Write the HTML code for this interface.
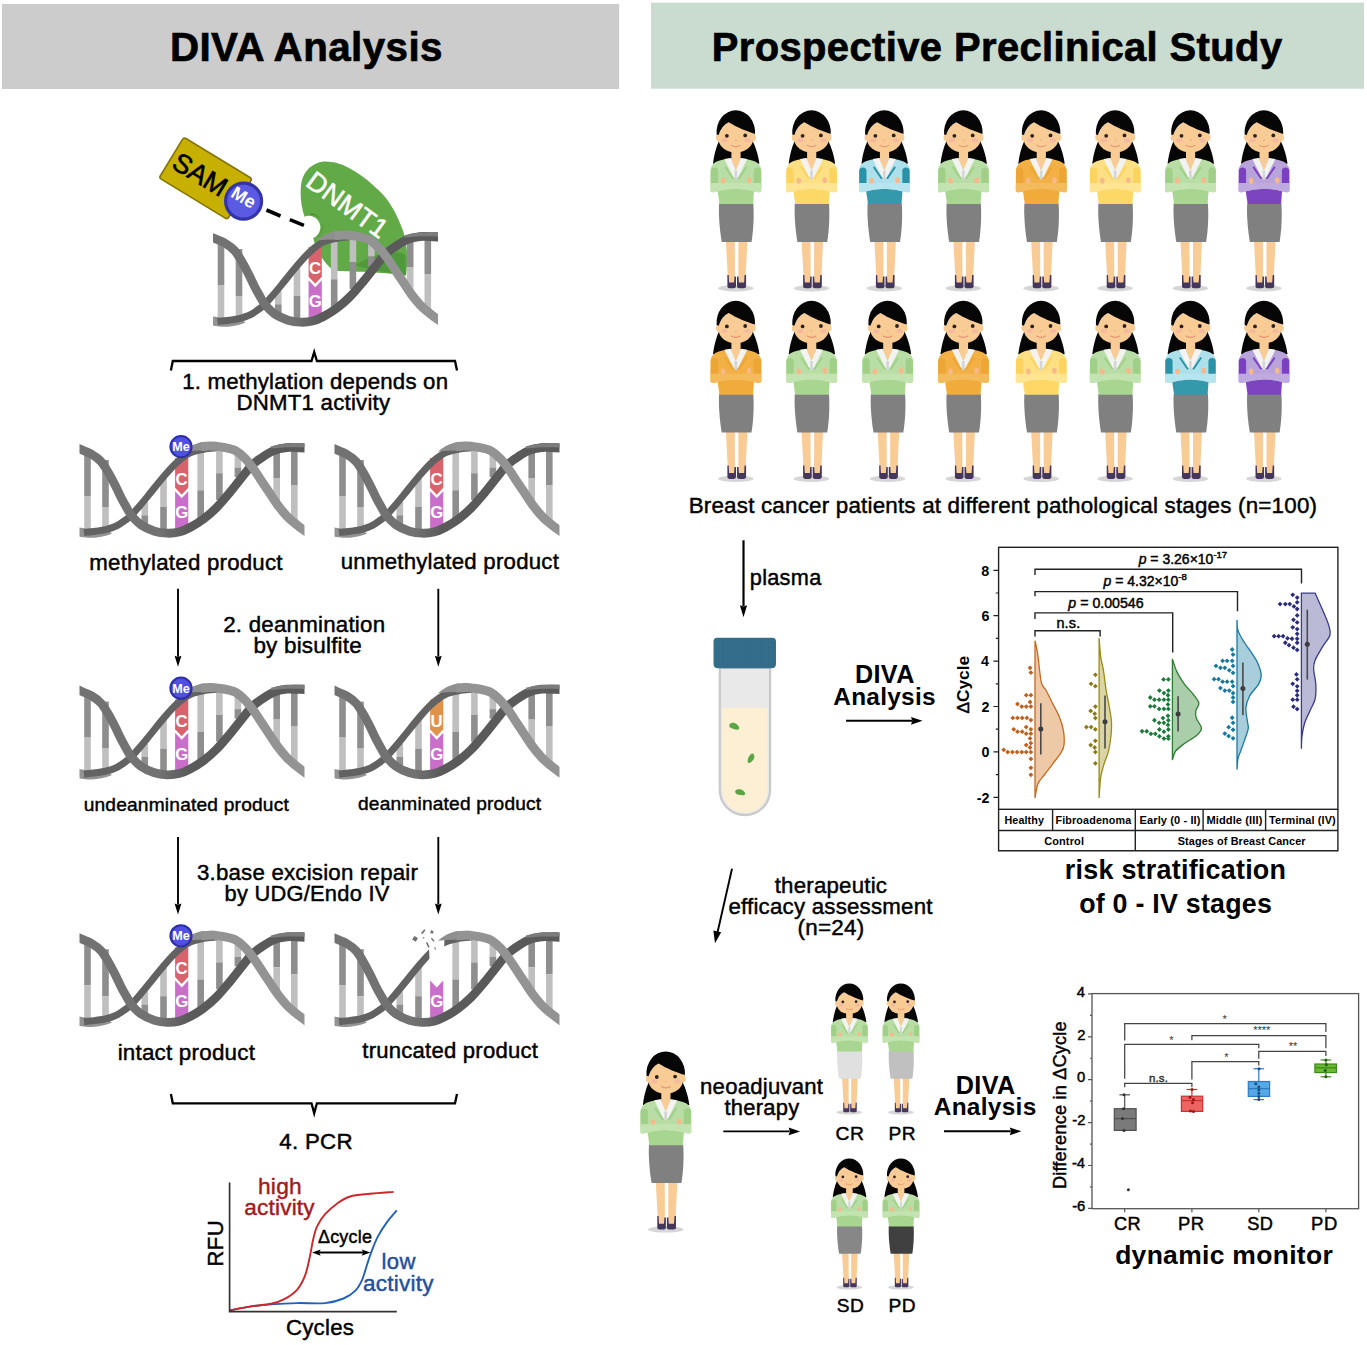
<!DOCTYPE html>
<html><head><meta charset="utf-8"><title>DIVA Analysis</title>
<style>html,body{margin:0;padding:0;background:#fff;overflow:hidden}svg{display:block}text{font-family:"Liberation Sans", Arial, sans-serif}</style>
</head><body>
<svg width="1367" height="1345" viewBox="0 0 1367 1345">
<defs>
<clipPath id="cutB"><path d="M-10,-10 L97.5,-10 L99.5,40 L114,40 L115,-10 L260,-10 L260,130 L-10,130 Z"/></clipPath>
<clipPath id="dclip"><rect x="4.5" y="0" width="225" height="120"/></clipPath>
<g id="dbars">
<rect x="9.2" y="22" width="6.6" height="44" fill="#8e8e8e"/>
<rect x="9.2" y="66" width="6.6" height="34" fill="#bfbfbf"/>
<rect x="27.2" y="30" width="6.6" height="47" fill="#8e8e8e"/>
<rect x="27.2" y="77" width="6.6" height="23" fill="#bfbfbf"/>
<rect x="66.5" y="72" width="6.6" height="13.3" fill="#bfbfbf"/>
<rect x="66.5" y="85.3" width="6.6" height="10.7" fill="#8e8e8e"/>
<rect x="85.2" y="48" width="6.6" height="29" fill="#bfbfbf"/>
<rect x="85.2" y="77" width="6.6" height="24" fill="#8e8e8e"/>
<rect x="122.4" y="20" width="6.6" height="40.3" fill="#bfbfbf"/>
<rect x="122.4" y="60.3" width="6.6" height="31.7" fill="#8e8e8e"/>
<rect x="141.1" y="18" width="6.6" height="25.2" fill="#bfbfbf"/>
<rect x="141.1" y="43.2" width="6.6" height="26.8" fill="#8e8e8e"/>
<rect x="159.6" y="22" width="6.6" height="15.5" fill="#bfbfbf"/>
<rect x="159.6" y="37.5" width="6.6" height="9.5" fill="#8e8e8e"/>
<rect x="198.4" y="19" width="6.6" height="29" fill="#8e8e8e"/>
<rect x="198.4" y="48" width="6.6" height="27" fill="#bfbfbf"/>
<rect x="216" y="17" width="6.6" height="38" fill="#8e8e8e"/>
<rect x="216" y="55" width="6.6" height="41" fill="#bfbfbf"/>
</g>
<path id="dC" d="M100.1,28 L113.3,28 L113.3,57.7 L106.7,64.7 L100.1,57.7 Z" fill="#d9636d"/>
<path id="dU" d="M100.1,28 L113.3,28 L113.3,57.7 L106.7,64.7 L100.1,57.7 Z" fill="#e0924a"/>
<path id="dG" d="M100.1,61.2 L106.7,68.2 L113.3,61.2 L113.3,101 L100.1,101 Z" fill="#c96fca"/>
<path id="sB1" d="M9,102.6 C10.92,102.37 16.88,101.7 20.5,101.2 C24.12,100.7 27.28,100.43 30.7,99.6 C34.12,98.77 37.58,97.87 41,96.2 C44.42,94.53 48.62,91.47 51.2,89.6 C53.78,87.73 54.2,87.35 56.5,85 C58.8,82.65 61.9,79.12 65,75.5 C68.1,71.88 71.18,68.08 75.1,63.3 C79.02,58.52 84.03,51.97 88.5,46.8 C92.97,41.63 97.45,36.28 101.9,32.3 C106.35,28.32 110.75,25.08 115.2,22.9 C119.65,20.72 124.25,20.05 128.6,19.2 C132.95,18.35 139.18,18.03 141.3,17.8" fill="none" stroke="#626262" stroke-width="7"/>
<linearGradient id="gA" gradientUnits="userSpaceOnUse" x1="0" y1="0" x2="234" y2="0"><stop offset="0.36" stop-color="#727272"/><stop offset="0.48" stop-color="#5a5a5a"/></linearGradient>
<path id="sA" d="M0,17.5 C0.73,17.72 1.57,17.63 4.4,18.8 C7.23,19.97 13.4,22.38 17,24.5 C20.6,26.62 23.33,28.58 26,31.5 C28.67,34.42 30.67,38.08 33,42 C35.33,45.92 37.78,50.67 40,55 C42.22,59.33 44.47,64.42 46.3,68 C48.13,71.58 49.3,73.58 51,76.5 C52.7,79.42 53.95,82.42 56.5,85.5 C59.05,88.58 62.47,92.38 66.3,95 C70.13,97.62 75.22,99.83 79.5,101.2 C83.78,102.57 87.92,103.07 92,103.2 C96.08,103.33 100.17,102.95 104,102 C107.83,101.05 110.97,99.62 115,97.5 C119.03,95.38 123.82,92.57 128.2,89.3 C132.58,86.03 136.92,82.3 141.3,77.9 C145.68,73.5 150.1,68.17 154.5,62.9 C158.9,57.63 164.03,50.83 167.7,46.3 C171.37,41.77 173.58,38.63 176.5,35.7 C179.42,32.77 181.55,31.18 185.2,28.7 C188.85,26.22 194,22.65 198.4,20.8 C202.8,18.95 207.22,18.1 211.6,17.6 C215.98,17.1 220.97,17.68 224.7,17.8 C228.43,17.92 232.45,18.22 234,18.3" fill="none" stroke="url(#gA)" stroke-width="8.8"/>
<path id="sB2" d="M126,16.6 C127.33,16.5 131.45,16.05 134,16 C136.55,15.95 137.15,15.65 141.3,16.3 C145.45,16.95 154.22,17.98 158.9,19.9 C163.58,21.82 166.18,24.72 169.4,27.8 C172.62,30.88 175.57,34.88 178.2,38.4 C180.83,41.92 182.57,44.95 185.2,48.9 C187.83,52.85 191.07,57.72 194,62.1 C196.93,66.48 199.87,71.25 202.8,75.2 C205.73,79.15 208.67,82.72 211.6,85.8 C214.53,88.88 217.4,91.23 220.4,93.7 C223.4,96.17 227,98.8 229.6,100.6 C232.2,102.4 234.93,103.85 236,104.5" fill="none" stroke="#939393" stroke-width="9"/>
<path id="rib1" d="M0,96.8 L12,98.6 L32,99.5 L37,103.4 C28,107.3 18,108 12.8,107.8 C9,107.5 6,106.8 0,105.9 Z" fill="#939393"/>
<path id="rib2" d="M196,16.2 C208,12.8 220,12.6 234,13.1 L234,17.6 C222,17.2 210,16.8 196,18.6 Z" fill="#7c7c7c"/>
<path id="rib3" d="M108,21.5 C115,15.5 122,12.3 130,11.9 L131,20.6 C124,20.2 116,20.6 108,21.5 Z" fill="#8f8f8f"/>
<g id="woman">
<ellipse cx="0" cy="178.3" rx="17.7" ry="3.2" fill="#d6d6d6"/>
<path d="M-15.5,28.5 C-18.6,34 -21.6,43 -22.8,53.8 L23.6,53.8 C22.2,43 18.6,34 15.5,28.5 Z" fill="#060606"/>
<path d="M-10,130 L-1,130 L-0.8,174 L-7.6,174 Z M2.6,130 L11.6,130 L9.6,174 L2.6,174 Z" fill="#f9cb95"/>
<path d="M-8.4,165 L-7.1,165 L-6.7,172.6 L-1.7,172.6 L-1.3,166.5 L0.2,166.5 L0.2,176.6 Q0.2,178.4 -2,178.4 L-6.3,178.4 Q-8.4,178.4 -8.4,176.6 Z M1.2,166.5 L2.7,166.5 L3.1,172.6 L8.3,172.6 L8.8,165 L10.3,165 L10.3,176.6 Q10.3,178.4 8.1,178.4 L3.4,178.4 Q1.2,178.4 1.2,176.6 Z" fill="#45365c"/>
<path d="M-16.7,93.6 L17.5,93.6 C18.3,104 17.8,120 15.7,132 L-14.1,132 C-16.2,120 -17.4,104 -16.7,93.6 Z" style="fill:var(--sk,#808080)"/>
<rect x="-4.4" y="36" width="9.2" height="16" fill="#f9cb95"/>
<ellipse cx="0" cy="28.8" rx="17.3" ry="13.9" fill="#f9cb95"/>
<ellipse cx="-17.6" cy="27.6" rx="2.2" ry="3.4" fill="#f9cb95"/><ellipse cx="17.8" cy="27.6" rx="2.2" ry="3.4" fill="#f9cb95"/>
<path d="M-17.8,27 Q-14,15.5 -7.2,12.4 C1,17.5 12,21.8 19.3,24 L17,31 L-17,31 Z" fill="#f9cb95"/>
<path d="M-19.2,24.6 A19.3,22 0 1 1 19.2,24.6 L19.3,24 C12,21.8 1,17.5 -7.2,12.4 Q-14,15.5 -17.2,25.2 Z" fill="#060606"/>
<circle cx="-8.9" cy="25.9" r="1.9" fill="#2d2222"/><circle cx="9.4" cy="25.5" r="1.9" fill="#2d2222"/>
<ellipse cx="-11.3" cy="30.4" rx="3" ry="2" fill="#f4b3a2" opacity="0.8"/><ellipse cx="11.7" cy="30.4" rx="3" ry="2" fill="#f4b3a2" opacity="0.8"/>
<path d="M-4.6,35.2 Q0,38.6 4.8,35.2" fill="none" stroke="#e3906f" stroke-width="1.1"/>
<ellipse cx="0.2" cy="30.5" rx="1.1" ry="0.8" fill="#eeb383"/>
<path d="M-18.6,78 L18.4,78 L17.2,94.2 L-16.3,94.2 Z" style="fill:var(--to)"/>
<path d="M-4.6,48.4 L-10.5,49.4 C-18.5,50.5 -24.3,53 -25.2,60 L-25.3,80.3 C-25.3,82.2 -24,82.6 -22,82.4 Q0,75.4 22,82.4 C24,82.6 25.6,82.2 25.6,80.3 L25.6,60 C24.6,53 18.6,50.5 10.8,49.4 L5.2,48.4 Z" style="fill:var(--up)"/>
<rect x="-25.1" y="57.5" width="7.3" height="20" rx="3.6" style="fill:var(--sl)"/>
<rect x="18" y="57.5" width="7.3" height="20" rx="3.6" style="fill:var(--sl)"/>
<path d="M-10.6,57 L-2.5,68.8 M10.8,57 L2.8,68.8" fill="none" stroke-width="1.9" style="stroke:var(--sl)"/>
<path d="M-5.2,48.4 L5.2,48.4 L0,60.6 Z" fill="#f9cb95"/>
<path d="M-5.2,48.2 L0,60.6 L0,68.6 L-2.6,66.8 L-11.5,49.2 Z M5.2,48.2 L0,60.6 L0,68.6 L2.6,66.8 L11.5,49.2 Z" fill="#f3f3f1"/>
<path d="M-1.4,60.5 L1.4,60.5 L1.2,69.5 L-1.2,69.5 Z" fill="#d3d6d8"/>
<path d="M-25.3,73.2 L25.6,73.2 L25.6,80.3 C25.6,82.2 24,82.6 22,82.4 Q0,75.4 -22,82.4 C-24,82.6 -25.3,82.2 -25.3,80.3 Z" style="fill:var(--fa)"/>
<ellipse cx="-12.8" cy="70.9" rx="2.3" ry="3" fill="#f7b98a"/><ellipse cx="13.3" cy="70.3" rx="2.3" ry="3" fill="#f7b98a"/>
</g>
</defs>
<rect x="2" y="4" width="617.2" height="85" fill="#cccccc"/>
<text x="169.88" y="61.3" font-size="40.31" font-weight="bold" letter-spacing="0.45" stroke="#000" stroke-width="0.7">DIVA Analysis</text>
<path d="M323.8,161.6 C312,163 304,171 301.5,182 C299.6,193 300.8,205 304.5,216.7 A10.8,10.8 0 1 1 313.2,238 C316,250 323,262 333.5,270.8 C345,272 375,271 406,275.6 C409,255 406,238 402,228 C396,212 388,198 377,188.7 C365,177 350,167 338.3,163.5 C333,162 328,161.3 323.8,161.6 Z" fill="#62aa48"/>
<path d="M309.5,214.8 A10.8,10.8 0 0 1 313.2,238 L316.5,237 A12.6,12.6 0 0 0 311,213.5 Z" fill="#3f8a2e"/>
<path d="M355,265 C372,255 392,250 405,254 L406,275.6 C385,272 368,270 355,265 Z" fill="#4e9a3a"/>
<g transform="translate(208.5,219)">
<g clip-path="url(#dclip)">
<use href="#dbars"/>
<use href="#dC"/><use href="#dG"/>
<use href="#rib1"/>
<use href="#sB1"/>
<use href="#sA"/><use href="#rib2"/>
<use href="#rib3"/><use href="#sB2"/>
</g>
<text x="100.53" y="55.3" font-size="16.8" font-weight="bold" fill="#fff">C</text>
<text x="100.32" y="88" font-size="16.8" font-weight="bold" fill="#fff">G</text>
</g>
<text x="0" y="0" font-size="27" fill="#fff" stroke="#fff" stroke-width="0.5" transform="translate(304.3,185) rotate(36)">DNMT1</text>
<g transform="translate(205.6,178.3) rotate(31.3)"><rect x="-40" y="-23.8" width="80" height="47.6" rx="2.5" fill="#c8b000" stroke="#857400" stroke-width="1.6"/><text x="-36" y="8.8" font-size="27" stroke="#000" stroke-width="0.6">SAM</text></g>
<circle cx="243.6" cy="201.1" r="18" fill="#5a5ae2" stroke="#3434aa" stroke-width="3.2"/>
<text x="0" y="0" font-size="18" font-weight="bold" fill="#fff" transform="translate(229.8,196.2) rotate(31)">Me</text>
<path d="M266.5,210 L280.5,216 M289.8,219.6 L303.9,225.4" stroke="#000" stroke-width="3.6"/>
<path d="M170.9,370.4 L172.8,361 L311.5,361 L314.2,352 L316.9,361 L455,361 L457,370.4" fill="none" stroke="#000" stroke-width="2.3" stroke-linejoin="miter"/>
<text x="182.13" y="388.5" font-size="22.23" stroke="#000" stroke-width="0.45" letter-spacing="0.22">1. methylation depends on</text>
<text x="236.42" y="409.6" font-size="22.24" stroke="#000" stroke-width="0.45" letter-spacing="0.23">DNMT1 activity</text>
<g transform="translate(75,430)">
<g clip-path="url(#dclip)">
<use href="#dbars"/>
<use href="#dC"/><use href="#dG"/>
<use href="#rib1"/>
<use href="#sB1"/>
<use href="#sA"/><use href="#rib2"/>
<use href="#rib3"/><use href="#sB2"/>
</g>
<text x="100.53" y="55.3" font-size="16.8" font-weight="bold" fill="#fff">C</text>
<text x="100.32" y="88" font-size="16.8" font-weight="bold" fill="#fff">G</text>
<circle cx="106" cy="16.6" r="10.6" fill="#5050e2" stroke="#2e2ea6" stroke-width="2"/>
<text x="97.24" y="21" font-size="12.6" font-weight="bold" fill="#fff">Me</text>
</g>
<g transform="translate(330,430)">
<g clip-path="url(#dclip)">
<use href="#dbars"/>
<use href="#dC"/><use href="#dG"/>
<use href="#rib1"/>
<use href="#sB1"/>
<use href="#sA"/><use href="#rib2"/>
<use href="#rib3"/><use href="#sB2"/>
</g>
<text x="100.53" y="55.3" font-size="16.8" font-weight="bold" fill="#fff">C</text>
<text x="100.32" y="88" font-size="16.8" font-weight="bold" fill="#fff">G</text>
</g>
<text x="89.35" y="570.3" font-size="22.26" stroke="#000" stroke-width="0.45" letter-spacing="0.23">methylated product</text>
<text x="340.77" y="568.6" font-size="22.23" stroke="#000" stroke-width="0.45" letter-spacing="0.23">unmethylated product</text>
<line x1="178" y1="588.8" x2="178" y2="656.7" stroke="#000" stroke-width="1.9"/><path d="M174.6,655.7 L178,657 L181.4,655.7 L178,666.7 Z"/>
<line x1="438.3" y1="588.8" x2="438.3" y2="656.7" stroke="#000" stroke-width="1.9"/><path d="M434.9,655.7 L438.3,657 L441.7,655.7 L438.3,666.7 Z"/>
<text x="223.18" y="632.2" font-size="22.31" stroke="#000" stroke-width="0.45" letter-spacing="0.23">2. deanmination</text>
<text x="253.45" y="653.1" font-size="22.47" stroke="#000" stroke-width="0.45" letter-spacing="0.19">by bisulfite</text>
<g transform="translate(75,671.6)">
<g clip-path="url(#dclip)">
<use href="#dbars"/>
<use href="#dC"/><use href="#dG"/>
<use href="#rib1"/>
<use href="#sB1"/>
<use href="#sA"/><use href="#rib2"/>
<use href="#rib3"/><use href="#sB2"/>
</g>
<text x="100.53" y="55.3" font-size="16.8" font-weight="bold" fill="#fff">C</text>
<text x="100.32" y="88" font-size="16.8" font-weight="bold" fill="#fff">G</text>
<circle cx="106" cy="16.6" r="10.6" fill="#5050e2" stroke="#2e2ea6" stroke-width="2"/>
<text x="97.24" y="21" font-size="12.6" font-weight="bold" fill="#fff">Me</text>
</g>
<g transform="translate(330,671.6)">
<g clip-path="url(#dclip)">
<use href="#dbars"/>
<use href="#dU"/><use href="#dG"/>
<use href="#rib1"/>
<use href="#sB1"/>
<use href="#sA"/><use href="#rib2"/>
<use href="#rib3"/><use href="#sB2"/>
</g>
<text x="100.61" y="55.3" font-size="16.8" font-weight="bold" fill="#fff">U</text>
<text x="100.32" y="88" font-size="16.8" font-weight="bold" fill="#fff">G</text>
</g>
<text x="83.65" y="811.4" font-size="19.15" stroke="#000" stroke-width="0.45" letter-spacing="0.2">undeanminated product</text>
<text x="358.03" y="809.8" font-size="19.13" stroke="#000" stroke-width="0.45" letter-spacing="0.2">deanminated product</text>
<line x1="178" y1="837" x2="178" y2="904.5" stroke="#000" stroke-width="1.9"/><path d="M174.6,903.5 L178,904.8 L181.4,903.5 L178,914.5 Z"/>
<line x1="438.3" y1="837" x2="438.3" y2="904.5" stroke="#000" stroke-width="1.9"/><path d="M434.9,903.5 L438.3,904.8 L441.7,903.5 L438.3,914.5 Z"/>
<text x="196.92" y="880" font-size="22.28" stroke="#000" stroke-width="0.45" letter-spacing="0.21">3.base excision repair</text>
<text x="224.49" y="901.3" font-size="21.86" stroke="#000" stroke-width="0.45" letter-spacing="0.25">by UDG/Endo IV</text>
<g transform="translate(75,919.2)">
<g clip-path="url(#dclip)">
<use href="#dbars"/>
<use href="#dC"/><use href="#dG"/>
<use href="#rib1"/>
<use href="#sB1"/>
<use href="#sA"/><use href="#rib2"/>
<use href="#rib3"/><use href="#sB2"/>
</g>
<text x="100.53" y="55.3" font-size="16.8" font-weight="bold" fill="#fff">C</text>
<text x="100.32" y="88" font-size="16.8" font-weight="bold" fill="#fff">G</text>
<circle cx="106" cy="16.6" r="10.6" fill="#5050e2" stroke="#2e2ea6" stroke-width="2"/>
<text x="97.24" y="21" font-size="12.6" font-weight="bold" fill="#fff">Me</text>
</g>
<g transform="translate(330,919.2)">
<g clip-path="url(#dclip)">
<use href="#dbars"/>
<use href="#dG"/>
<use href="#rib1"/>
<g clip-path="url(#cutB)"><use href="#sB1"/></g>
<use href="#sA"/><use href="#rib2"/>
<use href="#rib3"/><use href="#sB2"/>
</g>
<text x="100.32" y="88" font-size="16.8" font-weight="bold" fill="#fff">G</text>
<g fill="#707070"><rect x="83" y="17.5" width="4.2" height="4.2" transform="rotate(30 85 19.6)"/><rect x="92.5" y="10" width="1.6" height="5" transform="rotate(40 93.3 12.5)"/><rect x="100.5" y="11.5" width="2.8" height="2.8" transform="rotate(20 102 13)"/><rect x="93" y="18" width="1.3" height="1.3"/><rect x="102" y="18.5" width="1.4" height="4" transform="rotate(-40 102.7 20.5)"/><rect x="97" y="23" width="1.5" height="5.5" transform="rotate(-25 97.7 25.7)"/><rect x="104.5" y="28" width="1" height="2.5" transform="rotate(-20 105 29)"/></g>
</g>
<text x="117.64" y="1059.6" font-size="22.42" stroke="#000" stroke-width="0.45" letter-spacing="0.21">intact product</text>
<text x="362.27" y="1057.7" font-size="22.11" stroke="#000" stroke-width="0.45" letter-spacing="0.22">truncated product</text>
<path d="M170.9,1094.1 L172.8,1103.3 L311.5,1103.3 L314.2,1113.3 L316.9,1103.3 L455,1103.3 L457,1094.1" fill="none" stroke="#000" stroke-width="2.3"/>
<text x="279.25" y="1149" font-size="22.29" stroke="#000" stroke-width="0.45" letter-spacing="0.29">4. PCR</text>
<path d="M229.6,1310.4 C233.22,1309.73 244.38,1307.4 251.3,1306.4 C258.22,1305.4 263.42,1304.95 271.1,1304.4 C278.78,1303.85 288.4,1303.32 297.4,1303.1 C306.4,1302.88 317.42,1303.87 325.1,1303.1 C332.78,1302.33 338.45,1300.58 343.5,1298.5 C348.55,1296.42 352.32,1293.67 355.4,1290.6 C358.48,1287.53 360.03,1284.48 362,1280.1 C363.97,1275.72 365.67,1268.92 367.2,1264.3 C368.73,1259.68 369.43,1257.02 371.2,1252.4 C372.97,1247.78 375.17,1241.65 377.8,1236.6 C380.43,1231.55 383.83,1226.48 387,1222.1 C390.17,1217.72 395.17,1212.27 396.8,1210.3" fill="none" stroke="#2261b8" stroke-width="1.9"/>
<path d="M229.6,1310.4 C233.22,1309.73 244.38,1307.5 251.3,1306.4 C258.22,1305.3 265.6,1305 271.1,1303.8 C276.6,1302.6 279.92,1301.62 284.3,1299.2 C288.68,1296.78 293.9,1293.37 297.4,1289.3 C300.9,1285.23 303.22,1280.28 305.3,1274.8 C307.38,1269.32 308.58,1262.32 309.9,1256.4 C311.22,1250.48 311.98,1244.35 313.2,1239.3 C314.42,1234.25 315.22,1230.28 317.2,1226.1 C319.18,1221.92 321.82,1217.93 325.1,1214.2 C328.38,1210.47 332.73,1206.65 336.9,1203.7 C341.07,1200.75 344.6,1198.15 350.1,1196.5 C355.6,1194.85 362.65,1194.57 369.9,1193.8 C377.15,1193.03 389.65,1192.22 393.6,1191.9" fill="none" stroke="#c9282d" stroke-width="1.9"/>
<path d="M229.6,1182.4 L229.6,1311.7 L396.8,1311.7" fill="none" stroke="#333" stroke-width="1.7"/>
<line x1="318" y1="1252.6" x2="364" y2="1252.6" stroke="#000" stroke-width="2"/>
<path d="M312,1252.6 L320.7,1249.4 L319,1252.6 L320.7,1255.8 Z M370.4,1252.6 L361.7,1249.4 L363.4,1252.6 L361.7,1255.8 Z"/>
<text x="257.92" y="1193.9" font-size="22.72" fill="#a31a1d" stroke="#a31a1d" stroke-width="0.45" letter-spacing="0.27">high</text>
<text x="244.3" y="1215.2" font-size="22.55" fill="#a31a1d" stroke="#a31a1d" stroke-width="0.45" letter-spacing="0.2">activity</text>
<text x="317.95" y="1243.2" font-size="17.97" stroke="#000" stroke-width="0.45" letter-spacing="0.21">Δcycle</text>
<text x="381.57" y="1269.4" font-size="22.08" fill="#1f4f9e" stroke="#1f4f9e" stroke-width="0.45" letter-spacing="0.32">low</text>
<text x="363.1" y="1291.2" font-size="22.55" fill="#1f4f9e" stroke="#1f4f9e" stroke-width="0.45" letter-spacing="0.2">activity</text>
<g transform="translate(223.1,1264.7) rotate(-90)"><text x="-1.76" y="0" font-size="22" stroke="#000" stroke-width="0.45" letter-spacing="0.43">RFU</text></g>
<text x="285.89" y="1335" font-size="22.25" stroke="#000" stroke-width="0.45" letter-spacing="0.26">Cycles</text>
<rect x="651" y="2.6" width="713" height="86.1" fill="#cadcd0"/>
<text x="711.7" y="61.3" font-size="39.92" font-weight="bold" letter-spacing="0.41" stroke="#000" stroke-width="0.7">Prospective Preclinical Study</text>
<use href="#woman" transform="translate(735.8,109.9)" style="--up:#b9dea5;--sl:#a0d087;--to:#a8d58f;--fa:#c3e4b1"/>
<use href="#woman" transform="translate(811.5,109.9)" style="--up:#fde084;--sl:#fbd35e;--to:#fdd867;--fa:#fee593"/>
<use href="#woman" transform="translate(884.3,109.9)" style="--up:#aee0ec;--sl:#2a92a6;--to:#3399ab;--fa:#b6e4ef"/>
<use href="#woman" transform="translate(963.3,109.9)" style="--up:#b9dea5;--sl:#a0d087;--to:#a8d58f;--fa:#c3e4b1"/>
<use href="#woman" transform="translate(1041.1,109.9)" style="--up:#f2b045;--sl:#eda535;--to:#f0ab3a;--fa:#f4bb5d"/>
<use href="#woman" transform="translate(1115.1,109.9)" style="--up:#fde084;--sl:#fbd35e;--to:#fdd867;--fa:#fee593"/>
<use href="#woman" transform="translate(1190.4,109.9)" style="--up:#b9dea5;--sl:#a0d087;--to:#a8d58f;--fa:#c3e4b1"/>
<use href="#woman" transform="translate(1263.9,109.9)" style="--up:#b8a4da;--sl:#7b40c2;--to:#7d44c0;--fa:#beaade"/>
<use href="#woman" transform="translate(735.8,300.5)" style="--up:#f2b045;--sl:#eda535;--to:#f0ab3a;--fa:#f4bb5d"/>
<use href="#woman" transform="translate(811.5,300.5)" style="--up:#b9dea5;--sl:#a0d087;--to:#a8d58f;--fa:#c3e4b1"/>
<use href="#woman" transform="translate(887.6,300.5)" style="--up:#b9dea5;--sl:#a0d087;--to:#a8d58f;--fa:#c3e4b1"/>
<use href="#woman" transform="translate(963.3,300.5)" style="--up:#f2b045;--sl:#eda535;--to:#f0ab3a;--fa:#f4bb5d"/>
<use href="#woman" transform="translate(1041.1,300.5)" style="--up:#fde084;--sl:#fbd35e;--to:#fdd867;--fa:#fee593"/>
<use href="#woman" transform="translate(1115.1,300.5)" style="--up:#b9dea5;--sl:#a0d087;--to:#a8d58f;--fa:#c3e4b1"/>
<use href="#woman" transform="translate(1190.4,300.5)" style="--up:#aee0ec;--sl:#2a92a6;--to:#3399ab;--fa:#b6e4ef"/>
<use href="#woman" transform="translate(1263.9,300.5)" style="--up:#b8a4da;--sl:#7b40c2;--to:#7d44c0;--fa:#beaade"/>
<text x="688.71" y="513" font-size="22.39" stroke="#000" stroke-width="0.45" letter-spacing="0.2">Breast cancer patients at different pathological stages (n=100)</text>
<line x1="743.5" y1="540.3" x2="743.5" y2="606.3" stroke="#000" stroke-width="2.2"/><path d="M739.9,605.3 L743.5,606.6 L747.1,605.3 L743.5,617.3 Z"/>
<text x="749.8" y="585.1" font-size="21.72" stroke="#000" stroke-width="0.45" letter-spacing="0.28">plasma</text>
<path d="M719.8,668 L719.8,790 A25.15,25.15 0 0 0 770.1,790 L770.1,668 Z" fill="#e9e9e9" stroke="#c9c9c9" stroke-width="2.2"/>
<path d="M722.3,709.5 Q722.3,707.8 724,707.8 L766,707.8 Q767.6,707.8 767.6,709.5 L767.6,790 A22.65,22.65 0 0 1 722.3,790 Z" fill="#fdefd3"/>
<path d="M717,637.7 L772.5,637.7 Q776,637.7 776,641.5 L776,664 Q776,668.2 771.5,668.2 L718,668.2 Q713.5,668.2 713.5,664 L713.5,641.5 Q713.5,637.7 717,637.7 Z" fill="#34708d"/>
<path d="M716.5,639 L716.5,667 M719.1,639 L719.1,667 M721.7,639 L721.7,667 M724.3,639 L724.3,667 M726.9,639 L726.9,667 M729.5,639 L729.5,667 M732.1,639 L732.1,667 M734.7,639 L734.7,667 M737.3,639 L737.3,667 M739.9,639 L739.9,667 M742.5,639 L742.5,667 M745.1,639 L745.1,667 M747.7,639 L747.7,667 M750.3,639 L750.3,667 M752.9,639 L752.9,667 M755.5,639 L755.5,667 M758.1,639 L758.1,667 M760.7,639 L760.7,667 M763.3,639 L763.3,667 M765.9,639 L765.9,667 M768.5,639 L768.5,667 M771.1,639 L771.1,667 M773.7,639 L773.7,667" stroke="#2b6380" stroke-width="0.7" opacity="0.6"/>
<g fill="#5ba546"><path d="M729.5,724.5 C731,722 735,722.5 737,724.5 C739,726 740,728.5 738.5,729.5 C736,730 733.5,729 732,728.5 C730,727.5 728.5,726.5 729.5,724.5 Z"/><path d="M752.5,753.5 C754.5,754 755,757 753.5,759.5 C752,761.5 750,763.5 748.5,763 C747,761.5 747.5,758.5 749,756.5 C750,755 751,753.5 752.5,753.5 Z"/><path d="M735.5,790.5 C737.5,788.5 741,789 743,790.5 C745,792 746,794 744.5,795 C742,795.5 739.5,795 737.5,794.5 C735.5,793.5 734.5,792 735.5,790.5 Z"/></g>
<text x="854.96" y="683.3" font-size="25.16" font-weight="bold" letter-spacing="0.38">DIVA</text>
<text x="833.31" y="704.9" font-size="24.37" font-weight="bold" letter-spacing="0.29">Analysis</text>
<line x1="846.1" y1="720.8" x2="912" y2="720.8" stroke="#000" stroke-width="1.9"/><path d="M911,716.9 L922.5,720.8 L911,724.7 L912.3,720.8 Z"/>
<text x="1064.85" y="879" font-size="26.91" font-weight="bold" letter-spacing="0.24">risk stratification</text>
<text x="1079.16" y="913.1" font-size="26.78" font-weight="bold" letter-spacing="0.25">of 0 - IV stages</text>
<line x1="732" y1="868.8" x2="717.6" y2="932" stroke="#000" stroke-width="1.9"/>
<path d="M713.4,930.5 L721.2,932.3 L715,943.2 Z"/>
<text x="774.67" y="892.6" font-size="22.26" stroke="#000" stroke-width="0.45" letter-spacing="0.22">therapeutic</text>
<text x="728.41" y="913.6" font-size="22.25" stroke="#000" stroke-width="0.45" letter-spacing="0.23">efficacy assessment</text>
<text x="797.46" y="935" font-size="22.4" stroke="#000" stroke-width="0.45" letter-spacing="0.26">(n=24)</text>
<use href="#woman" transform="translate(665.7,1051.1)" style="--up:#b9dea5;--sl:#a0d087;--to:#a8d58f;--fa:#c3e4b1"/>
<text x="700.06" y="1093.6" font-size="22.14" stroke="#000" stroke-width="0.45" letter-spacing="0.24">neoadjuvant</text>
<text x="724.47" y="1114.6" font-size="21.93" stroke="#000" stroke-width="0.45" letter-spacing="0.25">therapy</text>
<line x1="723.3" y1="1131.4" x2="789.6" y2="1131.4" stroke="#000" stroke-width="1.9"/><path d="M788.6,1127.5 L800.1,1131.4 L788.6,1135.3 L789.9,1131.4 Z"/>
<use href="#woman" transform="translate(849.3,983.2) scale(0.724)" style="--up:#b9dea5;--sl:#a0d087;--to:#a8d58f;--fa:#c3e4b1;--sk:#e0e0e0"/>
<use href="#woman" transform="translate(900.9,983.2) scale(0.724)" style="--up:#b9dea5;--sl:#a0d087;--to:#a8d58f;--fa:#c3e4b1;--sk:#c0c0c0"/>
<use href="#woman" transform="translate(849.3,1158.2) scale(0.724)" style="--up:#b9dea5;--sl:#a0d087;--to:#a8d58f;--fa:#c3e4b1;--sk:#878787"/>
<use href="#woman" transform="translate(900.9,1158.2) scale(0.724)" style="--up:#b9dea5;--sl:#a0d087;--to:#a8d58f;--fa:#c3e4b1;--sk:#404040"/>
<text x="835.44" y="1139.9" font-size="19.28" stroke="#000" stroke-width="0.45" letter-spacing="0.53">CR</text>
<text x="888.57" y="1139.9" font-size="19.11" stroke="#000" stroke-width="0.45" letter-spacing="0.49">PR</text>
<text x="836.84" y="1312.4" font-size="19.12" stroke="#000" stroke-width="0.45" letter-spacing="0.51">SD</text>
<text x="888.57" y="1312.4" font-size="19.18" stroke="#000" stroke-width="0.45" letter-spacing="0.49">PD</text>
<text x="955.76" y="1093.5" font-size="25.21" font-weight="bold" letter-spacing="0.38">DIVA</text>
<text x="933.71" y="1114.9" font-size="24.44" font-weight="bold" letter-spacing="0.29">Analysis</text>
<line x1="944" y1="1131.3" x2="1010.8" y2="1131.3" stroke="#000" stroke-width="1.9"/><path d="M1009.8,1127.4 L1021.3,1131.3 L1009.8,1135.2 L1011.1,1131.3 Z"/>
<text x="1115.14" y="1263.8" font-size="26.48" font-weight="bold" letter-spacing="0.31">dynamic monitor</text>
<path d="M1035,640.7 C1035.45,642.93 1036.65,647.18 1037.7,654.1 C1038.75,661.02 1039.92,676.18 1041.3,682.2 C1042.68,688.22 1044.1,686.63 1046,690.2 C1047.9,693.77 1050.47,699.13 1052.7,703.6 C1054.93,708.07 1057.62,712.53 1059.4,717 C1061.18,721.47 1062.63,725.72 1063.4,730.4 C1064.17,735.08 1064.45,741.32 1064,745.1 C1063.55,748.88 1062.58,749.98 1060.7,753.1 C1058.82,756.22 1055.38,760.23 1052.7,763.8 C1050.02,767.37 1047.07,771.15 1044.6,774.5 C1042.13,777.85 1039.5,779.98 1037.9,783.9 C1036.3,787.82 1035.48,795.65 1035,798 L1035,798 L1035,640.7 Z" fill="#eec9a8" stroke="#c8691f" stroke-width="1.3"/>
<path d="M1099.1,638 C1099.37,641.13 1099.98,651.45 1100.7,656.8 C1101.42,662.15 1102.5,664.53 1103.4,670.1 C1104.3,675.67 1105.22,684.62 1106.1,690.2 C1106.98,695.78 1107.82,698.47 1108.7,703.6 C1109.58,708.73 1111,715.87 1111.4,721 C1111.8,726.13 1111.55,729.5 1111.1,734.4 C1110.65,739.3 1109.87,745.5 1108.7,750.4 C1107.53,755.3 1105.43,759.33 1104.1,763.8 C1102.77,768.27 1101.53,771.5 1100.7,777.2 C1099.87,782.9 1099.37,794.53 1099.1,798 L1099.1,798 L1099.1,638 Z" fill="#dbd5a4" stroke="#9a8c16" stroke-width="1.3"/>
<path d="M1172.4,659 C1173.13,661.1 1174.8,667.4 1176.8,671.6 C1178.8,675.8 1181.65,680.42 1184.4,684.2 C1187.15,687.98 1190.88,691.13 1193.3,694.3 C1195.72,697.47 1198.48,700.45 1198.9,703.2 C1199.32,705.95 1196.22,708.27 1195.8,710.8 C1195.38,713.33 1195.45,715.45 1196.4,718.4 C1197.35,721.35 1201.6,725.55 1201.5,728.5 C1201.4,731.45 1198.65,733.58 1195.8,736.1 C1192.95,738.62 1187.77,741.08 1184.4,743.6 C1181.03,746.12 1177.6,748.45 1175.6,751.2 C1173.6,753.95 1172.93,758.62 1172.4,760.1 L1172.4,760.1 L1172.4,659 Z" fill="#aacdaa" stroke="#2e7d32" stroke-width="1.3"/>
<path d="M1237,619.9 C1237.17,621.68 1236.77,626.83 1238,630.6 C1239.23,634.37 1241.97,638.55 1244.4,642.5 C1246.83,646.45 1250.37,650.83 1252.6,654.3 C1254.83,657.77 1256.37,659.82 1257.8,663.3 C1259.23,666.78 1261.07,671.73 1261.2,675.2 C1261.33,678.67 1260.53,680.63 1258.6,684.1 C1256.67,687.57 1251.72,692.03 1249.6,696 C1247.48,699.97 1246.27,703.68 1245.9,707.9 C1245.53,712.12 1247.02,717.83 1247.4,721.3 C1247.78,724.77 1248.7,725.48 1248.2,728.7 C1247.7,731.92 1245.65,736.88 1244.4,740.6 C1243.15,744.32 1241.77,748.03 1240.7,751 C1239.63,753.97 1238.62,755.3 1238,758.4 C1237.38,761.5 1237.17,767.73 1237,769.6 L1237,769.6 L1237,619.9 Z" fill="#a9cedb" stroke="#1a7aa8" stroke-width="1.3"/>
<path d="M1301.4,593.1 L1315.1,593.1 C1316.33,595.87 1320.27,604.45 1322.5,609.7 C1324.73,614.95 1327.25,620.38 1328.5,624.6 C1329.75,628.82 1331,631.28 1330,635 C1329,638.72 1324.98,642.68 1322.5,646.9 C1320.02,651.12 1316.58,656.58 1315.1,660.3 C1313.62,664.02 1313.48,665.23 1313.6,669.2 C1313.72,673.17 1315.55,679.13 1315.8,684.1 C1316.05,689.07 1316.08,694.53 1315.1,699 C1314.12,703.47 1311.63,706.93 1309.9,710.9 C1308.17,714.87 1306.02,718.6 1304.7,722.8 C1303.38,727 1302.55,731.77 1302,736.1 C1301.45,740.43 1301.5,746.68 1301.4,748.8 L1301.4,748.8 Z" fill="#babad6" stroke="#3a3a94" stroke-width="1.3"/>
<line x1="1040.8" y1="703.3" x2="1040.8" y2="754.5" stroke="#4a4a4a" stroke-width="1.6"/>
<circle cx="1040.8" cy="729" r="2.5" fill="#3c3c3c"/>
<line x1="1105" y1="695.6" x2="1105" y2="748.4" stroke="#4a4a4a" stroke-width="1.6"/>
<circle cx="1105" cy="721.8" r="2.5" fill="#3c3c3c"/>
<line x1="1178.1" y1="696.2" x2="1178.1" y2="731.6" stroke="#4a4a4a" stroke-width="1.6"/>
<circle cx="1178.1" cy="713.9" r="2.5" fill="#3c3c3c"/>
<line x1="1242.9" y1="662.5" x2="1242.9" y2="715.3" stroke="#4a4a4a" stroke-width="1.6"/>
<circle cx="1242.9" cy="688.5" r="2.5" fill="#3c3c3c"/>
<line x1="1307.3" y1="609.7" x2="1307.3" y2="679.6" stroke="#4a4a4a" stroke-width="1.6"/>
<circle cx="1307.3" cy="644.2" r="2.5" fill="#3c3c3c"/>
<path d="M1030.06,665.47 L1032.46,667.87 L1030.06,670.27 L1027.66,667.87 Z M1030.87,670.16 L1033.27,672.56 L1030.87,674.96 L1028.47,672.56 Z M1026.18,692.78 L1028.58,695.18 L1026.18,697.58 L1023.78,695.18 Z M1030.87,692.78 L1033.27,695.18 L1030.87,697.58 L1028.47,695.18 Z M1030.06,699.6 L1032.46,702 L1030.06,704.4 L1027.66,702 Z M1017.48,701.61 L1019.88,704.01 L1017.48,706.41 L1015.08,704.01 Z M1021.77,704.15 L1024.17,706.55 L1021.77,708.95 L1019.37,706.55 Z M1026.18,704.15 L1028.58,706.55 L1026.18,708.95 L1023.78,706.55 Z M1030.87,704.15 L1033.27,706.55 L1030.87,708.95 L1028.47,706.55 Z M1012.8,715.53 L1015.2,717.93 L1012.8,720.33 L1010.4,717.93 Z M1017.48,715.53 L1019.88,717.93 L1017.48,720.33 L1015.08,717.93 Z M1022.17,715.53 L1024.57,717.93 L1022.17,720.33 L1019.77,717.93 Z M1026.85,715.53 L1029.25,717.93 L1026.85,720.33 L1024.45,717.93 Z M1030.87,717.67 L1033.27,720.07 L1030.87,722.47 L1028.47,720.07 Z M1026.18,724.63 L1028.58,727.03 L1026.18,729.43 L1023.78,727.03 Z M1013.74,726.9 L1016.14,729.3 L1013.74,731.7 L1011.34,729.3 Z M1017.48,729.31 L1019.88,731.71 L1017.48,734.11 L1015.08,731.71 Z M1022.17,729.31 L1024.57,731.71 L1022.17,734.11 L1019.77,731.71 Z M1026.18,731.32 L1028.58,733.72 L1026.18,736.12 L1023.78,733.72 Z M1030.87,726.9 L1033.27,729.3 L1030.87,731.7 L1028.47,729.3 Z M1030.87,731.32 L1033.27,733.72 L1030.87,736.12 L1028.47,733.72 Z M1030.06,736 L1032.46,738.4 L1030.06,740.8 L1027.66,738.4 Z M1030.87,740.69 L1033.27,743.09 L1030.87,745.49 L1028.47,743.09 Z M1026.18,742.7 L1028.58,745.1 L1026.18,747.5 L1023.78,745.1 Z M1030.06,745.11 L1032.46,747.51 L1030.06,749.91 L1027.66,747.51 Z M1003.7,747.38 L1006.1,749.78 L1003.7,752.18 L1001.3,749.78 Z M1007.71,749.66 L1010.11,752.06 L1007.71,754.46 L1005.31,752.06 Z M1012.4,749.66 L1014.8,752.06 L1012.4,754.46 L1010,752.06 Z M1017.08,749.66 L1019.48,752.06 L1017.08,754.46 L1014.68,752.06 Z M1021.77,749.66 L1024.17,752.06 L1021.77,754.46 L1019.37,752.06 Z M1026.18,749.66 L1028.58,752.06 L1026.18,754.46 L1023.78,752.06 Z M1030.87,749.66 L1033.27,752.06 L1030.87,754.46 L1028.47,752.06 Z M1030.87,756.48 L1033.27,758.88 L1030.87,761.28 L1028.47,758.88 Z M1030.87,765.45 L1033.27,767.85 L1030.87,770.25 L1028.47,767.85 Z M1030.87,772.41 L1033.27,774.81 L1030.87,777.21 L1028.47,774.81 Z" fill="#c45f1a"/>
<path d="M1095.37,672.43 L1097.77,674.83 L1095.37,677.23 L1092.97,674.83 Z M1091.09,681.4 L1093.49,683.8 L1091.09,686.2 L1088.69,683.8 Z M1095.37,683.81 L1097.77,686.21 L1095.37,688.61 L1092.97,686.21 Z M1095.37,704.15 L1097.77,706.55 L1095.37,708.95 L1092.97,706.55 Z M1090.69,708.57 L1093.09,710.97 L1090.69,713.37 L1088.29,710.97 Z M1094.71,711.25 L1097.11,713.65 L1094.71,716.05 L1092.31,713.65 Z M1095.37,715.66 L1097.77,718.06 L1095.37,720.46 L1092.97,718.06 Z M1086.41,724.63 L1088.81,727.03 L1086.41,729.43 L1084.01,727.03 Z M1091.09,724.63 L1093.49,727.03 L1091.09,729.43 L1088.69,727.03 Z M1095.37,726.9 L1097.77,729.3 L1095.37,731.7 L1092.97,729.3 Z M1095.37,738.41 L1097.77,740.81 L1095.37,743.21 L1092.97,740.81 Z M1090.69,742.7 L1093.09,745.1 L1090.69,747.5 L1088.29,745.1 Z M1094.71,745.11 L1097.11,747.51 L1094.71,749.91 L1092.31,747.51 Z M1095.37,749.66 L1097.77,752.06 L1095.37,754.46 L1092.97,752.06 Z M1095.37,760.9 L1097.77,763.3 L1095.37,765.7 L1092.97,763.3 Z" fill="#8a7a12"/>
<path d="M1163.55,677.03 L1165.95,679.43 L1163.55,681.83 L1161.15,679.43 Z M1168.35,677.03 L1170.75,679.43 L1168.35,681.83 L1165.95,679.43 Z M1159.38,688.16 L1161.78,690.56 L1159.38,692.96 L1156.98,690.56 Z M1163.93,690.68 L1166.33,693.08 L1163.93,695.48 L1161.53,693.08 Z M1168.35,688.16 L1170.75,690.56 L1168.35,692.96 L1165.95,690.56 Z M1167.97,692.83 L1170.37,695.23 L1167.97,697.63 L1165.57,695.23 Z M1150.28,695.11 L1152.68,697.51 L1150.28,699.91 L1147.88,697.51 Z M1154.45,697.26 L1156.85,699.66 L1154.45,702.06 L1152.05,699.66 Z M1159.13,697.26 L1161.53,699.66 L1159.13,702.06 L1156.73,699.66 Z M1163.93,697.26 L1166.33,699.66 L1163.93,702.06 L1161.53,699.66 Z M1168.35,697.26 L1170.75,699.66 L1168.35,702.06 L1165.95,699.66 Z M1167.97,702.06 L1170.37,704.46 L1167.97,706.86 L1165.57,704.46 Z M1150.28,703.95 L1152.68,706.35 L1150.28,708.75 L1147.88,706.35 Z M1154.45,703.95 L1156.85,706.35 L1154.45,708.75 L1152.05,706.35 Z M1159.13,706.48 L1161.53,708.88 L1159.13,711.28 L1156.73,708.88 Z M1163.93,706.48 L1166.33,708.88 L1163.93,711.28 L1161.53,708.88 Z M1168.35,706.48 L1170.75,708.88 L1168.35,711.28 L1165.95,708.88 Z M1167.97,713.43 L1170.37,715.83 L1167.97,718.23 L1165.57,715.83 Z M1162.92,715.71 L1165.32,718.11 L1162.92,720.51 L1160.52,718.11 Z M1154.45,717.86 L1156.85,720.26 L1154.45,722.66 L1152.05,720.26 Z M1159.13,720.39 L1161.53,722.79 L1159.13,725.19 L1156.73,722.79 Z M1163.93,720.39 L1166.33,722.79 L1163.93,725.19 L1161.53,722.79 Z M1168.35,717.86 L1170.75,720.26 L1168.35,722.66 L1165.95,720.26 Z M1167.97,722.53 L1170.37,724.93 L1167.97,727.33 L1165.57,724.93 Z M1159.38,727.08 L1161.78,729.48 L1159.38,731.88 L1156.98,729.48 Z M1163.93,729.23 L1166.33,731.63 L1163.93,734.03 L1161.53,731.63 Z M1168.35,727.08 L1170.75,729.48 L1168.35,731.88 L1165.95,729.48 Z M1142.06,728.85 L1144.46,731.25 L1142.06,733.65 L1139.66,731.25 Z M1146.74,728.85 L1149.14,731.25 L1146.74,733.65 L1144.34,731.25 Z M1150.91,731.38 L1153.31,733.78 L1150.91,736.18 L1148.51,733.78 Z M1155.33,731.38 L1157.73,733.78 L1155.33,736.18 L1152.93,733.78 Z M1159.38,733.91 L1161.78,736.31 L1159.38,738.71 L1156.98,736.31 Z M1163.93,736.18 L1166.33,738.58 L1163.93,740.98 L1161.53,738.58 Z M1168.35,733.91 L1170.75,736.31 L1168.35,738.71 L1165.95,736.31 Z M1168.35,736.18 L1170.75,738.58 L1168.35,740.98 L1165.95,738.58 Z" fill="#1b7a3c"/>
<path d="M1232.18,647.08 L1234.58,649.48 L1232.18,651.88 L1229.78,649.48 Z M1233.06,652.13 L1235.46,654.53 L1233.06,656.93 L1230.66,654.53 Z M1222.57,658.45 L1224.97,660.85 L1222.57,663.25 L1220.17,660.85 Z M1227.12,658.45 L1229.52,660.85 L1227.12,663.25 L1224.72,660.85 Z M1232.18,658.45 L1234.58,660.85 L1232.18,663.25 L1229.78,660.85 Z M1233.06,663.51 L1235.46,665.91 L1233.06,668.31 L1230.66,665.91 Z M1216,663.51 L1218.4,665.91 L1216,668.31 L1213.6,665.91 Z M1220.42,665.41 L1222.82,667.81 L1220.42,670.21 L1218.02,667.81 Z M1224.85,665.41 L1227.25,667.81 L1224.85,670.21 L1222.45,667.81 Z M1229.27,667.93 L1231.67,670.33 L1229.27,672.73 L1226.87,670.33 Z M1233.06,670.46 L1235.46,672.86 L1233.06,675.26 L1230.66,672.86 Z M1214.11,676.78 L1216.51,679.18 L1214.11,681.58 L1211.71,679.18 Z M1218.53,676.78 L1220.93,679.18 L1218.53,681.58 L1216.13,679.18 Z M1222.57,679.31 L1224.97,681.71 L1222.57,684.11 L1220.17,681.71 Z M1227.12,679.31 L1229.52,681.71 L1227.12,684.11 L1224.72,681.71 Z M1232.18,679.31 L1234.58,681.71 L1232.18,684.11 L1229.78,681.71 Z M1233.06,683.73 L1235.46,686.13 L1233.06,688.53 L1230.66,686.13 Z M1220.42,685.63 L1222.82,688.03 L1220.42,690.43 L1218.02,688.03 Z M1224.85,688.16 L1227.25,690.56 L1224.85,692.96 L1222.45,690.56 Z M1229.27,688.16 L1231.67,690.56 L1229.27,692.96 L1226.87,690.56 Z M1233.06,690.68 L1235.46,693.08 L1233.06,695.48 L1230.66,693.08 Z M1233.06,695.11 L1235.46,697.51 L1233.06,699.91 L1230.66,697.51 Z M1233.06,699.53 L1235.46,701.93 L1233.06,704.33 L1230.66,701.93 Z M1232.18,715.33 L1234.58,717.73 L1232.18,720.13 L1229.78,717.73 Z M1233.06,720.39 L1235.46,722.79 L1233.06,725.19 L1230.66,722.79 Z M1228.64,724.81 L1231.04,727.21 L1228.64,729.61 L1226.24,727.21 Z M1233.06,727.34 L1235.46,729.74 L1233.06,732.14 L1230.66,729.74 Z M1224.85,731.13 L1227.25,733.53 L1224.85,735.93 L1222.45,733.53 Z M1228.64,733.66 L1231.04,736.06 L1228.64,738.46 L1226.24,736.06 Z M1233.06,735.93 L1235.46,738.33 L1233.06,740.73 L1230.66,738.33 Z" fill="#18789e"/>
<path d="M1292.73,592.47 L1295.13,594.87 L1292.73,597.27 L1290.33,594.87 Z M1297.19,595.15 L1299.59,597.55 L1297.19,599.95 L1294.79,597.55 Z M1297.19,599.9 L1299.59,602.3 L1297.19,604.7 L1294.79,602.3 Z M1280.09,601.69 L1282.49,604.09 L1280.09,606.49 L1277.69,604.09 Z M1285.3,601.69 L1287.7,604.09 L1285.3,606.49 L1282.9,604.09 Z M1289.76,601.69 L1292.16,604.09 L1289.76,606.49 L1287.36,604.09 Z M1293.92,604.07 L1296.32,606.47 L1293.92,608.87 L1291.52,606.47 Z M1297.19,606.6 L1299.59,609 L1297.19,611.4 L1294.79,609 Z M1297.19,612.99 L1299.59,615.39 L1297.19,617.79 L1294.79,615.39 Z M1293.48,617.45 L1295.88,619.85 L1293.48,622.25 L1291.08,619.85 Z M1297.19,619.98 L1299.59,622.38 L1297.19,624.78 L1294.79,622.38 Z M1292.73,624.89 L1295.13,627.29 L1292.73,629.69 L1290.33,627.29 Z M1297.19,626.67 L1299.59,629.07 L1297.19,631.47 L1294.79,629.07 Z M1297.19,631.43 L1299.59,633.83 L1297.19,636.23 L1294.79,633.83 Z M1274.14,633.81 L1276.54,636.21 L1274.14,638.61 L1271.74,636.21 Z M1278.61,633.81 L1281.01,636.21 L1278.61,638.61 L1276.21,636.21 Z M1283.07,633.81 L1285.47,636.21 L1283.07,638.61 L1280.67,636.21 Z M1287.53,635.89 L1289.93,638.29 L1287.53,640.69 L1285.13,638.29 Z M1291.99,636.34 L1294.39,638.74 L1291.99,641.14 L1289.59,638.74 Z M1297.19,636.34 L1299.59,638.74 L1297.19,641.14 L1294.79,638.74 Z M1285.3,640.35 L1287.7,642.75 L1285.3,645.15 L1282.9,642.75 Z M1289.01,642.73 L1291.41,645.13 L1289.01,647.53 L1286.61,645.13 Z M1293.48,645.26 L1295.88,647.66 L1293.48,650.06 L1291.08,647.66 Z M1297.19,640.35 L1299.59,642.75 L1297.19,645.15 L1294.79,642.75 Z M1297.19,647.49 L1299.59,649.89 L1297.19,652.29 L1294.79,649.89 Z M1296.45,672.02 L1298.85,674.42 L1296.45,676.82 L1294.05,674.42 Z M1297.19,676.93 L1299.59,679.33 L1297.19,681.73 L1294.79,679.33 Z M1292.73,681.39 L1295.13,683.79 L1292.73,686.19 L1290.33,683.79 Z M1297.19,683.92 L1299.59,686.32 L1297.19,688.72 L1294.79,686.32 Z M1297.19,688.38 L1299.59,690.78 L1297.19,693.18 L1294.79,690.78 Z M1297.19,692.84 L1299.59,695.24 L1297.19,697.64 L1294.79,695.24 Z M1292.73,697.3 L1295.13,699.7 L1292.73,702.1 L1290.33,699.7 Z M1297.19,697.3 L1299.59,699.7 L1297.19,702.1 L1294.79,699.7 Z M1293.48,704.29 L1295.88,706.69 L1293.48,709.09 L1291.08,706.69 Z M1297.19,706.67 L1299.59,709.07 L1297.19,711.47 L1294.79,709.07 Z" fill="#2b2b7c"/>
<rect x="998.6" y="547.3" width="339.3" height="262" fill="none" stroke="#222" stroke-width="1.4"/>
<path d="M998.6,809.3 L998.6,850.8 L1337.9,850.8 L1337.9,809.3 M998.6,830.5 L1337.9,830.5 M1052.6,809.3 L1052.6,830.5 M1135.3,809.3 L1135.3,850.8 M1203.1,809.3 L1203.1,830.5 M1265.6,809.3 L1265.6,830.5" fill="none" stroke="#222" stroke-width="1.4"/>
<path d="M993.4,797.3 L998.6,797.3 M995.8,774.6 L998.6,774.6 M993.4,751.9 L998.6,751.9 M995.8,729.2 L998.6,729.2 M993.4,706.5 L998.6,706.5 M995.8,683.8 L998.6,683.8 M993.4,661.1 L998.6,661.1 M995.8,638.4 L998.6,638.4 M993.4,615.7 L998.6,615.7 M995.8,593 L998.6,593 M993.4,570.3 L998.6,570.3" stroke="#222" stroke-width="1.2"/>
<text x="981.32" y="575.5" font-size="14.3" font-weight="bold">8</text>
<text x="981.46" y="620.9" font-size="14.3" font-weight="bold">6</text>
<text x="980.96" y="666.3" font-size="14.3" font-weight="bold">4</text>
<text x="981.46" y="711.7" font-size="14.3" font-weight="bold">2</text>
<text x="981.46" y="757.1" font-size="14.3" font-weight="bold">0</text>
<text x="976.7" y="802.5" font-size="14.3" font-weight="bold">-2</text>
<g transform="translate(968.8,713.2) rotate(-90)"><text y="0" font-size="17.35" style="white-space:pre" ><tspan x="-0.43" y="0" stroke="#000" stroke-width="0.45">Δ</tspan><tspan x="11.15" y="0" font-weight="bold">Cycle</tspan></text></g>
<path d="M1035,636.6 L1035,630.7 L1100.1,630.7 L1100.1,636.6 M1035,619 L1035,612.9 L1172.7,612.9 L1172.7,652.5 M1035,596.3 L1035,591.6 L1237.5,591.6 L1237.5,611.2 M1035,575.1 L1035,569.2 L1301.5,569.2 L1301.5,583.5 " fill="none" stroke="#222" stroke-width="1.4"/>
<text x="1056.46" y="628.2" font-size="14.44" stroke="#000" stroke-width="0.45" letter-spacing="0.14">n.s.</text>
<text y="607.9" font-size="14.18" style="white-space:pre" ><tspan x="1068.35" y="607.9" stroke="#000" stroke-width="0.45" font-style="italic">p</tspan><tspan x="1076.24" y="607.9" stroke="#000" stroke-width="0.45"> = 0.00546</tspan></text>
<text y="586.3" font-size="14" style="white-space:pre" ><tspan x="1103.55" y="586.3" stroke="#000" stroke-width="0.45" font-style="italic">p</tspan><tspan x="1111.34" y="586.3" stroke="#000" stroke-width="0.45"> = 4.32×10</tspan><tspan x="1178.31" y="580.42" font-size="9.52" stroke="#000" stroke-width="0.45">-8</tspan></text>
<text y="564" font-size="14" style="white-space:pre" ><tspan x="1138.65" y="564" stroke="#000" stroke-width="0.45" font-style="italic">p</tspan><tspan x="1146.44" y="564" stroke="#000" stroke-width="0.45"> = 3.26×10</tspan><tspan x="1213.41" y="558.12" font-size="9.52" stroke="#000" stroke-width="0.45">-17</tspan></text>
<text x="1004.4" y="824.2" font-size="10.75" font-weight="bold" letter-spacing="0.13">Healthy</text>
<text x="1055.5" y="824.2" font-size="10.76" font-weight="bold" letter-spacing="0.14">Fibroadenoma</text>
<text x="1139.48" y="824.4" font-size="11.1" font-weight="bold" letter-spacing="0.09">Early (0 - II)</text>
<text x="1206.38" y="824.4" font-size="11.1" font-weight="bold" letter-spacing="0.1">Middle (III)</text>
<text x="1269.09" y="824.4" font-size="10.93" font-weight="bold" letter-spacing="0.11">Terminal (IV)</text>
<text x="1044.16" y="845" font-size="10.97" font-weight="bold" letter-spacing="0.13">Control</text>
<text x="1177.73" y="844.5" font-size="10.84" font-weight="bold" letter-spacing="0.12">Stages of Breast Cancer</text>
<rect x="1092" y="993.6" width="266.6" height="215.1" fill="none" stroke="#555" stroke-width="1.3"/>
<path d="M1088,1208.4 L1092,1208.4 M1090,1186.95 L1092,1186.95 M1088,1165.5 L1092,1165.5 M1090,1144.05 L1092,1144.05 M1088,1122.6 L1092,1122.6 M1090,1101.15 L1092,1101.15 M1088,1079.7 L1092,1079.7 M1090,1058.25 L1092,1058.25 M1088,1036.8 L1092,1036.8 M1090,1015.35 L1092,1015.35 M1088,993.9 L1092,993.9 M1124.7,1208.7 L1124.7,1212.3 M1191.9,1208.7 L1191.9,1212.3 M1258.8,1208.7 L1258.8,1212.3 M1325.9,1208.7 L1325.9,1212.3" stroke="#555" stroke-width="1.2"/>
<text x="1076.86" y="996.6" font-size="14.8" stroke="#000" stroke-width="0.45">4</text>
<text x="1077.15" y="1039.5" font-size="14.8" stroke="#000" stroke-width="0.45">2</text>
<text x="1077" y="1082.4" font-size="14.8" stroke="#000" stroke-width="0.45">0</text>
<text x="1072.22" y="1125.3" font-size="14.8" stroke="#000" stroke-width="0.45">-2</text>
<text x="1071.93" y="1168.2" font-size="14.8" stroke="#000" stroke-width="0.45">-4</text>
<text x="1072.15" y="1211.1" font-size="14.8" stroke="#000" stroke-width="0.45">-6</text>
<g transform="translate(1066.1,1187.6) rotate(-90)"><text x="-1.46" y="0" font-size="18.19" stroke="#000" stroke-width="0.45" letter-spacing="0.17">Difference in ΔCycle</text></g>
<text x="1113.89" y="1230.2" font-size="18.19" stroke="#000" stroke-width="0.45" letter-spacing="0.5">CR</text>
<text x="1178.03" y="1230.2" font-size="18.41" stroke="#000" stroke-width="0.45" letter-spacing="0.48">PR</text>
<text x="1247.18" y="1230.2" font-size="18.21" stroke="#000" stroke-width="0.45" letter-spacing="0.48">SD</text>
<text x="1311.12" y="1230.2" font-size="18.48" stroke="#000" stroke-width="0.45" letter-spacing="0.48">PD</text>
<path d="M1124.7,1087.2 L1124.7,1083.4 L1191.9,1083.4 L1191.9,1087.2 M1191.9,1079.6 L1191.9,1061.6 L1258.8,1061.6 L1258.8,1065.4 M1124.7,1078.7 L1124.7,1044.4 L1258.8,1044.4 L1258.8,1048.3 M1258.8,1058.7 L1258.8,1051.3 L1325.9,1051.3 L1325.9,1055.9 M1191.9,1040.3 L1191.9,1035.5 L1325.9,1035.5 L1325.9,1048.3 M1124.7,1040.6 L1124.7,1023.5 L1325.9,1023.5 L1325.9,1032.1 " fill="none" stroke="#444" stroke-width="1.25"/>
<text x="1149.05" y="1081.5" font-size="11.49" fill="#333" stroke="#333" stroke-width="0.45" letter-spacing="0.11">n.s.</text>
<text x="1171.3" y="1044.3" font-size="11" text-anchor="middle" fill="#333">*</text>
<text x="1226.5" y="1060.7" font-size="11" text-anchor="middle" fill="#333">*</text>
<text x="1293" y="1050.0" font-size="11" text-anchor="middle" fill="#333">**</text>
<text x="1261.7" y="1034.4" font-size="11" text-anchor="middle" fill="#333">****</text>
<text x="1224.6" y="1023.0" font-size="11" text-anchor="middle" fill="#333">*</text>
<line x1="1124.7" y1="1094.8" x2="1124.7" y2="1130.4" stroke="#505050" stroke-width="1.2"/>
<line x1="1119.4" y1="1094.8" x2="1130.0" y2="1094.8" stroke="#505050" stroke-width="1.2"/>
<rect x="1114.3" y="1108.7" width="21.8" height="21.7" fill="#7a7a7a" stroke="#505050" stroke-width="1.2"/>
<line x1="1114.3" y1="1118.6" x2="1136.1" y2="1118.6" stroke="#505050" stroke-width="1.3"/>
<circle cx="1124" cy="1094.8" r="1.5" fill="#333"/>
<circle cx="1123.5" cy="1108.7" r="1.5" fill="#333"/>
<circle cx="1122.5" cy="1118.6" r="1.5" fill="#333"/>
<circle cx="1124" cy="1130.4" r="1.5" fill="#333"/>
<circle cx="1128.4" cy="1189.8" r="1.5" fill="#333"/>
<line x1="1191.9" y1="1089.5" x2="1191.9" y2="1111.4" stroke="#cc3030" stroke-width="1.2"/>
<line x1="1186.6000000000001" y1="1089.5" x2="1197.2" y2="1089.5" stroke="#cc3030" stroke-width="1.2"/>
<rect x="1181.4" y="1096.2" width="21.3" height="15.2" fill="#ee6464" stroke="#cc3030" stroke-width="1.2"/>
<line x1="1181.4" y1="1100.6" x2="1202.7" y2="1100.6" stroke="#cc3030" stroke-width="1.3"/>
<circle cx="1192" cy="1089.5" r="1.5" fill="#a01515"/>
<circle cx="1190" cy="1097.2" r="1.5" fill="#a01515"/>
<circle cx="1193.5" cy="1099.5" r="1.5" fill="#a01515"/>
<circle cx="1192.5" cy="1102.7" r="1.5" fill="#a01515"/>
<circle cx="1190.5" cy="1111" r="1.5" fill="#a01515"/>
<circle cx="1193.5" cy="1111.5" r="1.5" fill="#a01515"/>
<line x1="1258.8" y1="1068.8" x2="1258.8" y2="1099.6" stroke="#2c7dbf" stroke-width="1.2"/>
<line x1="1253.5" y1="1068.8" x2="1264.1" y2="1068.8" stroke="#2c7dbf" stroke-width="1.2"/>
<line x1="1253.5" y1="1099.6" x2="1264.1" y2="1099.6" stroke="#2c7dbf" stroke-width="1.2"/>
<rect x="1248.3" y="1081.5" width="21.3" height="14.9" fill="#56a8e6" stroke="#2c7dbf" stroke-width="1.2"/>
<line x1="1248.3" y1="1088.6" x2="1269.6" y2="1088.6" stroke="#2c7dbf" stroke-width="1.3"/>
<circle cx="1259" cy="1068.8" r="1.5" fill="#1a4f8a"/>
<circle cx="1255.8" cy="1083.8" r="1.5" fill="#1a4f8a"/>
<circle cx="1258.8" cy="1087" r="1.5" fill="#1a4f8a"/>
<circle cx="1258.8" cy="1090" r="1.5" fill="#1a4f8a"/>
<circle cx="1258.8" cy="1093.2" r="1.5" fill="#1a4f8a"/>
<circle cx="1258.8" cy="1096.6" r="1.5" fill="#1a4f8a"/>
<circle cx="1258.8" cy="1099.6" r="1.5" fill="#1a4f8a"/>
<line x1="1325.9" y1="1060" x2="1325.9" y2="1076.8" stroke="#3c8a1a" stroke-width="1.2"/>
<line x1="1320.6000000000001" y1="1060" x2="1331.2" y2="1060" stroke="#3c8a1a" stroke-width="1.2"/>
<line x1="1320.6000000000001" y1="1076.8" x2="1331.2" y2="1076.8" stroke="#3c8a1a" stroke-width="1.2"/>
<rect x="1314.9" y="1064" width="21.5" height="8.6" fill="#6cb832" stroke="#3c8a1a" stroke-width="1.2"/>
<line x1="1314.9" y1="1067.8" x2="1336.4" y2="1067.8" stroke="#3c8a1a" stroke-width="1.3"/>
<circle cx="1325.9" cy="1060" r="1.5" fill="#1f5e10"/>
<circle cx="1326.3" cy="1064.8" r="1.5" fill="#1f5e10"/>
<circle cx="1325.2" cy="1070.5" r="1.5" fill="#1f5e10"/>
<circle cx="1325.9" cy="1076.8" r="1.5" fill="#1f5e10"/>
</svg>
</body></html>
